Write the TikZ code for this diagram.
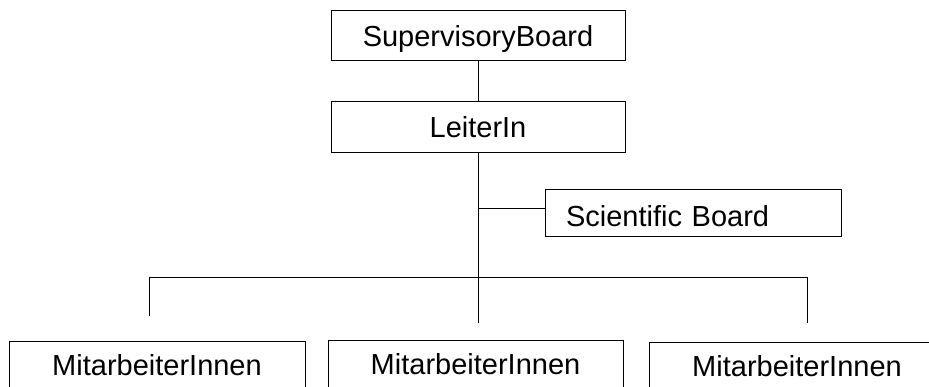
\documentclass[tikz,border=0pt]{standalone}
\usepackage{fontspec}
\setmainfont{Liberation Sans}
\begin{document}
\begin{tikzpicture}[x=1pt,y=-1pt,
  orgbox/.style={draw, line width=0.9pt, inner xsep=0pt, inner ysep=0pt,
    font=\fontsize{29}{30}\selectfont, text depth=2pt},
  conn/.style={line width=0.9pt}]
\useasboundingbox (0,0) rectangle (929,387);
\node[orgbox, minimum width=294pt, minimum height=50pt, text height=26pt] (sup) at (478,35) {SupervisoryBoard};
\node[orgbox, minimum width=294pt, minimum height=51pt, text height=25pt] (lei) at (478,126.5) {LeiterIn};
\node[orgbox, text width=254pt, align=left, inner xsep=21pt, minimum height=47pt, text height=30pt] (sci) at (693,212.5) {Scientific Board};
\node[orgbox, minimum width=296pt, minimum height=90pt, text height=20pt, text depth=42pt] (m1) at (157,386) {MitarbeiterInnen};
\node[orgbox, minimum width=295pt, minimum height=90pt, text height=20pt, text depth=42pt] (m2) at (475.5,385) {MitarbeiterInnen};
\node[orgbox, minimum width=296pt, minimum height=90pt, text height=20pt, text depth=42pt] (m3) at (797,387) {MitarbeiterInnen};
\coordinate (hub) at (478,277);
\coordinate (sb) at (478,208);
\coordinate (hl) at (149,277);
\coordinate (hr) at (807,277);
\coordinate (tl) at (149,316);
\coordinate (tc) at (478,323);
\coordinate (tr) at (807,323);
\draw[conn] (sup.south) -- (lei.north);
\draw[conn] (lei.south) -- (hub);
\draw[conn] (sb) -- (sb -| sci.west);
\draw[conn] (tl) -- (hl) -- (hr) -- (tr);
\draw[conn] (hub) -- (tc);
\end{tikzpicture}
\end{document}
